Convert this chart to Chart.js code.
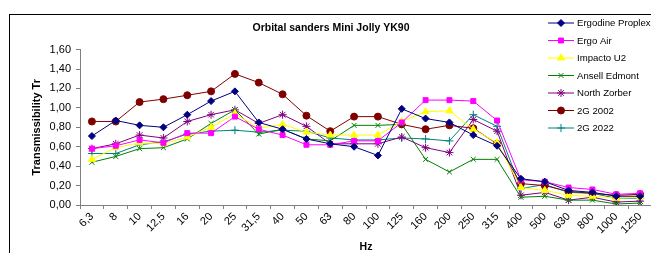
<!DOCTYPE html>
<html>
<head>
<meta charset="utf-8">
<script src="https://cdn.jsdelivr.net/npm/chart.js@4.4.1/dist/chart.umd.min.js"></script>
<style>
  html, body { margin: 0; padding: 0; background: #fff; overflow: hidden; }
  #wrap { position: relative; width: 665px; height: 253px; }
  #frame { position: absolute; left: 9px; top: 14px; width: 700px; height: 300px; border: 1px solid #000; box-sizing: border-box; }
  canvas { position: absolute; left: 0; top: 0; }
</style>
</head>
<body>
<div id="wrap">
  <div id="frame"></div>
  <canvas id="chart" width="665" height="253"></canvas>
</div>
<script>
// ── Data ────────────────────────────────────────────────
const freqLabels = ['6,3','8','10','12,5','16','20','25','31,5','40','50','63','80','100','125','160','200','250','315','400','500','630','800','1000','1250'];

const ergodineProplex = [0.71,0.87,0.82,0.80,0.93,1.07,1.17,0.85,0.78,0.68,0.63,0.60,0.51,0.99,0.89,0.85,0.72,0.61,0.27,0.24,0.15,0.13,0.09,0.09];
const ergoAir         = [0.58,0.61,0.67,0.64,0.74,0.74,0.91,0.78,0.72,0.62,0.62,0.66,0.66,0.85,1.08,1.08,1.07,0.87,0.26,0.24,0.18,0.16,0.11,0.12];
const impactoU2       = [0.47,0.59,0.64,0.63,0.70,0.80,0.94,0.79,0.83,0.75,0.72,0.72,0.72,0.86,0.96,0.97,0.78,0.64,0.18,0.15,0.10,0.09,0.07,0.08];
const ansellEdmont    = [0.44,0.50,0.58,0.59,0.68,0.84,0.98,0.73,0.78,0.68,0.66,0.82,0.82,0.83,0.47,0.34,0.47,0.47,0.08,0.09,0.05,0.05,0.01,0.02];
const northZorber     = [0.58,0.63,0.72,0.69,0.86,0.93,0.98,0.84,0.93,0.81,0.63,0.63,0.63,0.70,0.59,0.54,0.88,0.76,0.10,0.13,0.05,0.08,0.03,0.04];
const g2002           = [0.86,0.86,1.06,1.09,1.13,1.17,1.35,1.26,1.14,0.92,0.76,0.91,0.91,0.83,0.78,0.82,0.79,0.63,0.22,0.20,0.14,0.12,0.10,0.11];
const g2022           = [0.53,0.53,0.62,0.65,0.73,0.76,0.77,0.75,0.77,0.76,0.69,0.67,0.67,0.69,0.68,0.66,0.93,0.81,0.17,0.21,0.13,0.12,0.07,0.07];

const FONT = "'Liberation Sans', Arial, sans-serif";

function series(label, data, color, pointStyle, radius) {
  return {
    label, data,
    borderColor: color,
    backgroundColor: color,
    borderWidth: 1,
    pointStyle,
    pointRadius: radius,
    pointBorderWidth: 1,
    tension: 0,
  };
}

const datasets = [
  series('Ergodine Proplex', ergodineProplex, '#000080', 'rectRot', 3.5),
  series('Ergo Air',         ergoAir,         '#ff00ff', 'rect', 3.5),
  series('Impacto U2',       impactoU2,       '#ffff00', 'triangle', 4),
  series('Ansell Edmont',    ansellEdmont,    '#008000', 'crossRot', 3.5),
  series('North Zorber',     northZorber,     '#800080', 'star', 4),
  series('2G 2002',          g2002,           '#800000', 'circle', 3.5),
  series('2G 2022',          g2022,           '#008080', 'cross', 4),
];

// ── Legend drawn onto the canvas, Excel style ────────────
const excelLegend = {
  id: 'excelLegend',
  afterDraw(chart) {
    const ctx = chart.ctx;
    const x0 = 548, x1 = 574, tx = 577, y0 = 23, step = 17.5;
    ctx.save();
    chart.data.datasets.forEach((ds, i) => {
      const y = y0 + i * step;
      ctx.strokeStyle = ds.borderColor;
      ctx.lineWidth = 1;
      ctx.beginPath();
      ctx.moveTo(x0, y);
      ctx.lineTo(x1, y);
      ctx.stroke();
      ctx.fillStyle = ds.backgroundColor;
      ctx.strokeStyle = ds.borderColor;
      Chart.helpers.drawPoint(ctx, { pointStyle: ds.pointStyle, radius: ds.pointRadius, borderWidth: 1, rotation: 0 }, (x0 + x1) / 2, y);
      ctx.fillStyle = '#000';
      ctx.font = '9.6px ' + FONT;
      ctx.textBaseline = 'middle';
      ctx.textAlign = 'left';
      ctx.fillText(ds.label, tx, y + 0.5);
    });
    ctx.restore();
  }
};

new Chart(document.getElementById('chart'), {
  type: 'line',
  data: { labels: freqLabels, datasets },
  options: {
    responsive: false,
    animation: false,
    layout: { padding: { left: 10, right: 13, top: 0, bottom: 0 } },
    plugins: {
      legend: { display: false },
      tooltip: { enabled: false },
      title: {
        display: true,
        text: 'Orbital sanders Mini Jolly YK90',
        color: '#000',
        font: { family: FONT, size: 10.5, weight: 'bold' },
        padding: { top: 22, bottom: 15 },
      },
    },
    scales: {
      x: {
        offset: true,
        grid: { offset: true, drawOnChartArea: false, drawTicks: true, tickLength: 4, color: '#808080' },
        border: { color: '#808080', width: 1 },
        ticks: {
          color: '#000', autoSkip: false, maxRotation: 45, minRotation: 45, padding: 1,
          font: { family: FONT, size: 11 },
        },
        title: { display: true, text: 'Hz', color: '#000', font: { family: FONT, size: 10.5, weight: 'bold' }, padding: { top: 0, bottom: 0 } },
        afterFit: s => { s.height = 48; },
      },
      y: {
        min: 0, max: 1.6,
        grid: { drawOnChartArea: false, drawTicks: true, tickLength: 4, color: '#808080' },
        border: { color: '#808080', width: 1 },
        ticks: {
          stepSize: 0.2, color: '#000', padding: 5,
          font: { family: FONT, size: 11 },
          callback: v => v.toFixed(2).replace('.', ','),
        },
        title: { display: true, text: 'Transmissibility Tr', color: '#000', font: { family: FONT, size: 11, weight: 'bold' }, padding: { top: 20, bottom: 0 } },
        afterFit: s => { s.width = 70; },
      },
    },
  },
  plugins: [excelLegend],
});
</script>
</body>
</html>
